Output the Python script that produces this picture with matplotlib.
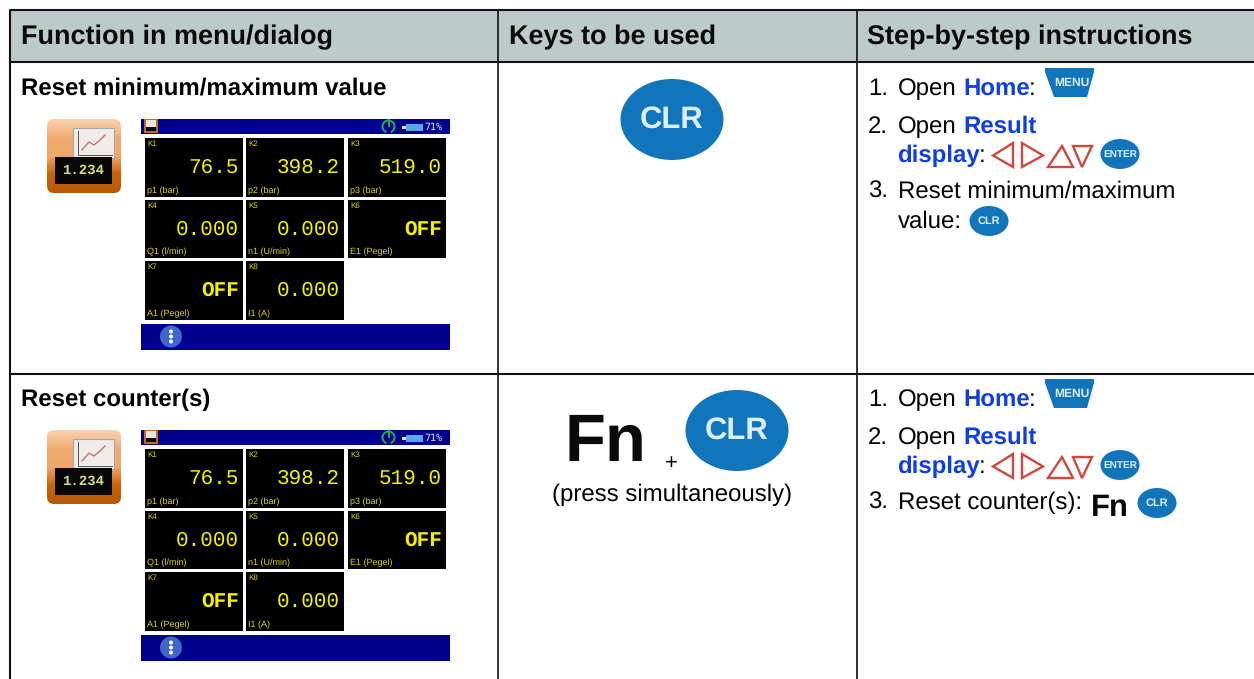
import matplotlib
matplotlib.use("Agg")
import matplotlib.pyplot as plt
import numpy as np
from matplotlib.colors import LinearSegmentedColormap
from matplotlib.patches import Rectangle, Ellipse, Polygon, FancyBboxPatch, Circle

headers = ["Function in menu/dialog", "Keys to be used", "Step-by-step instructions"]
row_titles = ["Reset minimum/maximum value", "Reset counter(s)"]
channels = ["K1", "K2", "K3", "K4", "K5", "K6", "K7", "K8"]
values = ["76.5", "398.2", "519.0", "0.000", "0.000", "OFF", "OFF", "0.000"]
units = ["p1 (bar)", "p2 (bar)", "p3 (bar)", "Q1 (l/min)", "n1 (U/min)", "E1 (Pegel)", "A1 (Pegel)", "I1 (A)"]
battery_label = "71%"
icon_value = "1.234"
press_note = "(press simultaneously)"
row_offsets = [0, 311]

plt.rcParams["font.family"] = ["Liberation Sans", "DejaVu Sans"]
plt.rcParams["text.hinting"] = "no_hinting"
plt.rcParams["text.hinting_factor"] = 1
fig = plt.figure(figsize=(12.54, 6.79), dpi=100)
ax = fig.add_axes([0, 0, 1, 1])

LINE = "#111111"
HEAD = "#BCCBCA"
BLUE = "#0F3FE0"
KEY = "#1075BB"
NAVY = "#00008C"
YEL = "#F4F000"
RED = "#D0473C"
LW = 1.5
BODY = 17.2

# table frame
ax.add_patch(Rectangle((10, 10), 1244, 52, fc=HEAD, ec="none", zorder=0))
ax.plot([1254, 10, 10], [10, 10, 679], color=LINE, lw=LW, solid_capstyle="butt")
ax.plot([10, 1254], [62, 62], color=LINE, lw=LW)
ax.plot([10, 1254], [374, 374], color=LINE, lw=LW)
for x in (498, 857):
    ax.plot([x, x], [10, 679], color=LINE, lw=1.2)

for h, x in zip(headers, (21, 509, 867)):
    ax.text(x, 44, h, fontsize=19.2, fontweight="bold", color="#0a0a0a", va="baseline")


def key_ellipse(cx, cy, w, h, label, size):
    ax.add_patch(Ellipse((cx, cy), w, h, fc=KEY, ec="none", zorder=2))
    ax.text(cx, cy + 0.5, label, color="#DCEEF8", fontsize=size, fontweight="bold",
            ha="center", va="center", zorder=3)


def arrows(dy):
    tris = [
        [(1013, 143), (993, 155.5), (1013, 167)],
        [(1022, 143), (1043, 155.5), (1022, 167)],
        [(1048, 167), (1062, 146), (1073, 167)],
        [(1073, 146), (1092, 146), (1082, 167)],
    ]
    for t in tris:
        ax.add_patch(Polygon([(x, y + dy) for x, y in t], closed=True, fc="white", ec=RED, lw=1.7, zorder=2))


def menu_key(dy):
    ax.add_patch(Polygon([(1045, 68 + dy), (1094, 68 + dy), (1094, 72 + dy), (1087, 97 + dy),
                          (1054, 97 + dy), (1045, 72 + dy)], closed=True, fc=KEY, ec="none", zorder=2))
    ax.text(1071.5, 83 + dy, "MENU", color="#DCEEF8", fontsize=8.8, fontweight="bold",
            ha="center", va="center", zorder=3)


icon_cmap = LinearSegmentedColormap.from_list(
    "icon", ["#F9D2AE", "#F0AC70", "#EFA868", "#C86408", "#B85A08"])


def app_icon(dy):
    box = FancyBboxPatch((50, 122 + dy), 68, 68, boxstyle="round,pad=3,rounding_size=7",
                         fc="none", ec="none", zorder=1)
    ax.add_patch(box)
    img = ax.imshow(np.linspace(0, 1, 80).reshape(-1, 1), cmap=icon_cmap, aspect="auto",
                    extent=(47, 121, 193 + dy, 119 + dy), zorder=1)
    img.set_clip_path(box)
    ax.add_patch(Rectangle((73, 128 + dy), 41, 30, fc="#EEEBE8", ec="#A8A8A8", lw=0.8, zorder=2))
    ax.plot([78, 78, 112], [131 + dy, 155 + dy, 155 + dy], color="#555555", lw=0.7, zorder=3)
    ax.plot([82, 89, 94, 100, 105], [150 + dy, 142 + dy, 145 + dy, 140 + dy, 135 + dy],
            color="#C8707A", lw=1.0, zorder=3)
    ax.add_patch(Rectangle((55, 157 + dy), 57, 27, fc="#080808", ec="none", zorder=3))
    ax.text(83.5, 170.5 + dy, icon_value, family="Liberation Mono", fontweight="bold",
            color="#D8DE80", fontsize=10.4, ha="center", va="center", zorder=4)


def screen(dy):
    ax.add_patch(Rectangle((141, 119 + dy), 309, 15, fc=NAVY, ec="none", zorder=1))
    ax.add_patch(Rectangle((144, 119 + dy), 14, 14, fc="#C26A1A", ec="none", zorder=2))
    ax.add_patch(Rectangle((146, 120 + dy), 10, 7, fc="#E8E4E0", ec="none", zorder=3))
    ax.add_patch(Rectangle((146, 127 + dy), 10, 4, fc="#080808", ec="none", zorder=3))
    # power symbol
    theta = np.linspace(np.radians(-60), np.radians(240), 40)
    ax.plot(388.5 + 6 * np.cos(theta), 126.5 + dy - 6 * np.sin(theta), color="#22B04A", lw=1.4, zorder=3)
    ax.plot([388.5, 388.5], [120 + dy, 126 + dy], color="#22B04A", lw=1.4, zorder=3)
    # battery
    ax.add_patch(Rectangle((406, 123.5 + dy), 17, 7, fc="#58A8F0", ec="none", zorder=3))
    ax.add_patch(Rectangle((402, 125.5 + dy), 4, 3, fc="#D8E8F8", ec="none", zorder=3))
    ax.text(424, 127 + dy, battery_label, color="#D8E8F8", fontsize=7.4, ha="left", va="center",
            family="DejaVu Sans Mono", zorder=3)
    # cells
    xs = [145, 246, 348]
    ys = [138, 200, 261]
    hs = [59, 58, 59]
    for i, (c, v, u) in enumerate(zip(channels, values, units)):
        r, k = divmod(i, 3)
        x0, y0 = xs[k], ys[r] + dy
        ax.add_patch(Rectangle((x0, y0), 98, hs[r], fc="black", ec="none", zorder=2))
        ax.text(x0 + 2, y0 + 6, c, color="#E0D800", fontsize=6, va="center", zorder=3)
        ax.text(x0 + 2, y0 + hs[r] - 6.5, u, color="#E0D800", fontsize=6.3, va="center", zorder=3)
        ax.text(x0 + 94, y0 + 29, v, family="Liberation Mono", color=YEL, fontsize=14.8,
                fontweight="bold" if v == "OFF" else "normal", ha="right", va="center", zorder=3)
    # bottom bar
    ax.add_patch(Rectangle((141, 324 + dy), 309, 26, fc=NAVY, ec="none", zorder=1))
    ax.add_patch(Circle((171, 336.5 + dy), 11, fc="#3F66C8", ec="none", zorder=2))
    for o in (-5, 0, 5):
        ax.add_patch(Circle((171, 336.5 + dy + o), 2, fc="white", ec="none", zorder=3))


def steps(dy, last):
    ax.text(868, 95 + dy, "1.", fontsize=BODY, va="baseline")
    ax.text(898, 95 + dy, "Open", fontsize=BODY, va="baseline")
    ax.text(963, 95 + dy, "Home", fontsize=BODY, fontweight="bold", color=BLUE, va="baseline")
    ax.text(1029, 95 + dy, ":", fontsize=BODY, va="baseline")
    menu_key(dy)
    ax.text(868, 133 + dy, "2.", fontsize=BODY, va="baseline")
    ax.text(898, 133 + dy, "Open", fontsize=BODY, va="baseline")
    ax.text(963, 133 + dy, "Result", fontsize=BODY, fontweight="bold", color=BLUE, va="baseline")
    ax.text(897.5, 162 + dy, "display", fontsize=BODY, fontweight="bold", color=BLUE, va="baseline")
    ax.text(979, 162 + dy, ":", fontsize=BODY, va="baseline")
    arrows(dy)
    key_ellipse(1120, 154 + dy, 39, 30, "ENTER", 7.0)
    ax.text(868, 198 + dy, "3.", fontsize=BODY, va="baseline")
    for j, line in enumerate(last):
        ax.text(898, 198 + 30 * j + dy, line, fontsize=BODY, va="baseline")


step3_lines = [["Reset minimum/maximum", "value:"], ["Reset counter(s):"]]

for title, dy, last in zip(row_titles, row_offsets, step3_lines):
    ax.text(21, 95 + dy, title, fontsize=17.15, fontweight="bold", va="baseline")
    app_icon(dy)
    screen(dy)
    steps(dy, last)

# keys column
key_ellipse(672, 119.5, 103, 81, "CLR", 22.5)
key_ellipse(737, 430.5, 103, 81, "CLR", 22.5)
ax.text(605.5, 461, "Fn", fontsize=48, fontweight="bold", ha="center", va="baseline", color="#0a0a0a")
ax.text(671.5, 469, "+", fontsize=16, ha="center", va="baseline")
ax.text(672, 501, press_note, fontsize=BODY, ha="center", va="baseline")

# step 3 keys
key_ellipse(989, 221, 39, 30, "CLR", 8.2)
ax.text(1110, 516, "Fn", fontsize=22.5, fontweight="bold", ha="center", va="baseline", color="#0a0a0a")
key_ellipse(1157, 503, 39, 30, "CLR", 8.2)

ax.set_xlim(0, 1254)
ax.set_ylim(679, 0)
ax.axis("off")
fig.savefig("out.png", dpi=100)
